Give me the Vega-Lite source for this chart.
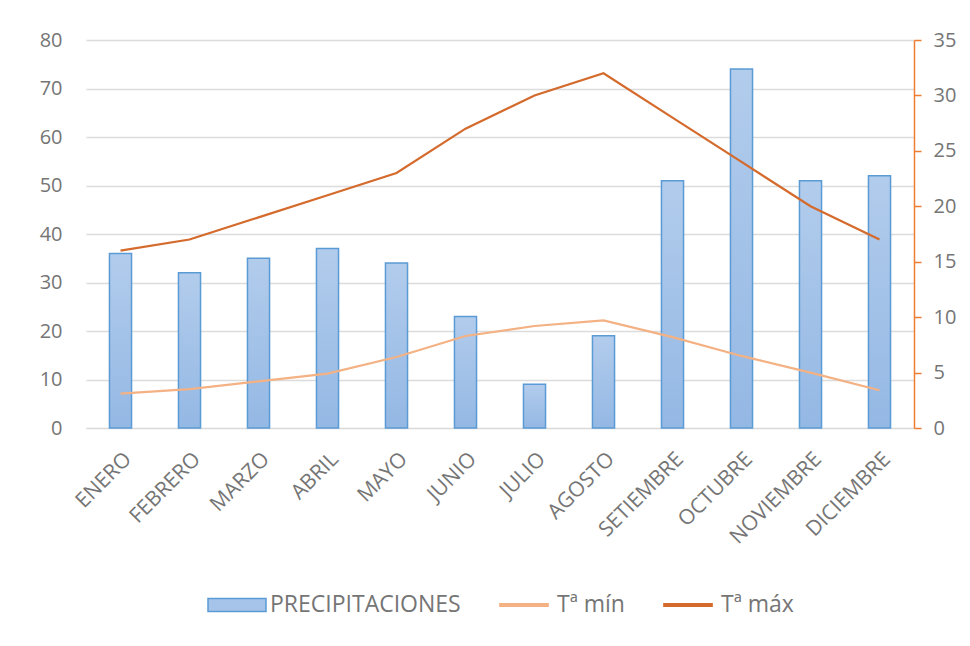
{
  "$schema": "https://vega.github.io/schema/vega-lite/v6.json",
  "width": 828,
  "height": 388,
  "autosize": {"type": "none"},
  "padding": {"left": 86, "top": 40, "right": 56, "bottom": 218},
  "background": "white",
  "config": {
    "font": "Open Sans",
    "view": {"stroke": null},
    "axis": {"labelFont": "Open Sans", "labelColor": "#757575", "labelFontSize": 20, "titleFontSize": 0},
    "axisX": {"labelPadding": 20, "labelFontSize": 21}
  },
  "data": {
    "values": [
      {"mes": "ENERO", "serie": "PRECIPITACIONES", "valor": 36},
      {"mes": "FEBRERO", "serie": "PRECIPITACIONES", "valor": 32},
      {"mes": "MARZO", "serie": "PRECIPITACIONES", "valor": 35},
      {"mes": "ABRIL", "serie": "PRECIPITACIONES", "valor": 37},
      {"mes": "MAYO", "serie": "PRECIPITACIONES", "valor": 34},
      {"mes": "JUNIO", "serie": "PRECIPITACIONES", "valor": 23},
      {"mes": "JULIO", "serie": "PRECIPITACIONES", "valor": 9},
      {"mes": "AGOSTO", "serie": "PRECIPITACIONES", "valor": 19},
      {"mes": "SETIEMBRE", "serie": "PRECIPITACIONES", "valor": 51},
      {"mes": "OCTUBRE", "serie": "PRECIPITACIONES", "valor": 74},
      {"mes": "NOVIEMBRE", "serie": "PRECIPITACIONES", "valor": 51},
      {"mes": "DICIEMBRE", "serie": "PRECIPITACIONES", "valor": 52},
      {"mes": "ENERO", "serie": "Tª mín", "valor": 3.1},
      {"mes": "FEBRERO", "serie": "Tª mín", "valor": 3.5},
      {"mes": "MARZO", "serie": "Tª mín", "valor": 4.2},
      {"mes": "ABRIL", "serie": "Tª mín", "valor": 4.9},
      {"mes": "MAYO", "serie": "Tª mín", "valor": 6.4},
      {"mes": "JUNIO", "serie": "Tª mín", "valor": 8.3},
      {"mes": "JULIO", "serie": "Tª mín", "valor": 9.2},
      {"mes": "AGOSTO", "serie": "Tª mín", "valor": 9.7},
      {"mes": "SETIEMBRE", "serie": "Tª mín", "valor": 8.2},
      {"mes": "OCTUBRE", "serie": "Tª mín", "valor": 6.5},
      {"mes": "NOVIEMBRE", "serie": "Tª mín", "valor": 5},
      {"mes": "DICIEMBRE", "serie": "Tª mín", "valor": 3.4},
      {"mes": "ENERO", "serie": "Tª máx", "valor": 16},
      {"mes": "FEBRERO", "serie": "Tª máx", "valor": 17},
      {"mes": "MARZO", "serie": "Tª máx", "valor": 19},
      {"mes": "ABRIL", "serie": "Tª máx", "valor": 21},
      {"mes": "MAYO", "serie": "Tª máx", "valor": 23},
      {"mes": "JUNIO", "serie": "Tª máx", "valor": 27},
      {"mes": "JULIO", "serie": "Tª máx", "valor": 30},
      {"mes": "AGOSTO", "serie": "Tª máx", "valor": 32},
      {"mes": "SETIEMBRE", "serie": "Tª máx", "valor": 28},
      {"mes": "OCTUBRE", "serie": "Tª máx", "valor": 24},
      {"mes": "NOVIEMBRE", "serie": "Tª máx", "valor": 20},
      {"mes": "DICIEMBRE", "serie": "Tª máx", "valor": 17}
    ]
  },
  "encoding": {
    "x": {
      "field": "mes",
      "type": "nominal",
      "sort": null,
      "title": null,
      "scale": {"paddingInner": 0.68, "paddingOuter": 0.34},
      "axis": {"labelAngle": -45, "ticks": false, "domain": true, "domainColor": "#d9d9d9", "grid": false}
    },
    "stroke": {
      "field": "serie", "type": "nominal",
      "scale": {"domain": ["PRECIPITACIONES", "Tª mín", "Tª máx"], "range": ["#5b9bd5", "#f4b183", "#d46a2c"]},
      "legend": {
        "orient": "none", "legendX": 121, "legendY": 535,
        "direction": "horizontal", "title": null,
        "symbolSize": 3364, "labelFontSize": 23, "labelColor": "#757575", "labelFont": "Open Sans",
        "labelLimit": 400, "labelOffset": 3, "columnPadding": 33,
        "encode": {
          "symbols": {
            "update": {
              "shape": {"signal": "datum.value === 'PRECIPITACIONES' ? 'M-1,-0.225H1V0.225H-1Z' : 'M-0.83,-0.045H0.83V0.045H-0.83Z'"},
              "fill": {"signal": "datum.value === 'PRECIPITACIONES' ? '#a6c4ea' : (datum.value === 'Tª mín' ? '#f4b183' : '#d46a2c')"},
              "stroke": {"signal": "datum.value === 'PRECIPITACIONES' ? '#5b9bd5' : 'transparent'"},
              "strokeWidth": {"value": 1.5},
              "size": {"value": 3364},
              "opacity": {"value": 1}
            }
          }
        }
      }
    }
  },
  "layer": [
    {
      "transform": [{"filter": "datum.serie === 'PRECIPITACIONES'"}],
      "mark": {
        "type": "bar",
        "strokeWidth": 1.5,
        "fill": {
          "gradient": "linear", "x1": 0, "y1": 0, "x2": 0, "y2": 1,
          "stops": [{"offset": 0, "color": "#b2ccec"}, {"offset": 1, "color": "#94b8e4"}]
        }
      },
      "encoding": {
        "y": {
          "field": "valor", "type": "quantitative", "title": null,
          "scale": {"domain": [0, 80]},
          "axis": {"orient": "left", "values": [0,10,20,30,40,50,60,70,80], "domain": false, "ticks": false, "tickSize": 0, "labelPadding": 24, "gridColor": "#dcdcdc", "gridWidth": 1.3}
        }
      }
    },
    {
      "transform": [{"filter": "datum.serie !== 'PRECIPITACIONES'"}],
      "mark": {"type": "line", "strokeWidth": 2.2},
      "encoding": {
        "y": {
          "field": "valor", "type": "quantitative", "title": null,
          "scale": {"domain": [0, 35]},
          "axis": {"orient": "right", "values": [0,5,10,15,20,25,30,35], "grid": false, "domain": true, "domainColor": "#ed7d31", "domainWidth": 1.5, "ticks": true, "tickColor": "#ed7d31", "tickWidth": 1.5, "tickSize": 7, "labelPadding": 12}
        },
        "detail": {"field": "serie"}
      }
    }
  ],
  "resolve": {"scale": {"y": "independent"}}
}
